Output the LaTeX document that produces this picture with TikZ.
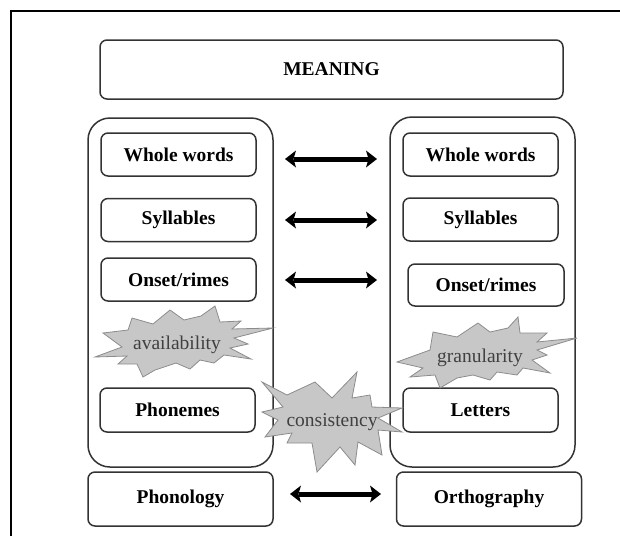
\documentclass[tikz,border=0pt]{standalone}
\usepackage{fontspec}
\setmainfont{Liberation Serif}
\usetikzlibrary{arrows.meta}
\begin{document}
\begin{tikzpicture}[x=1pt,y=-1pt,
  box/.style={draw=black!80, line width=1.5pt, rounded corners=7pt, minimum width=155pt, minimum height=43pt, inner sep=0pt,
    font=\fontsize{19.5}{22}\selectfont\bfseries, text=black},
  group/.style={draw=black!80, line width=1.5pt, rounded corners=22pt, minimum width=185pt, inner sep=0pt},
  burst/.style={fill=black!22, draw=black!45, line width=0.8pt, line join=miter},
  blbl/.style={font=\fontsize{19.5}{22}\selectfont, text=black!75, inner sep=0pt},
  tipx/.tip={Stealth[length=11pt,width=17pt,inset=2.5pt,line width=0pt]},
  dbl/.style={tipx-tipx, line width=5pt},
  framel/.style={line width=2.8pt}]
\useasboundingbox (0,0) rectangle (620,536);
% frame
\draw[framel] (11,536) -- (11,11) -- (620,11);
% meaning
\node[box, minimum width=463pt, minimum height=59pt] (meaning) at (331.5,69.5) {MEANING};
% groups
\node[group, minimum height=349pt] (bigL) at (180.5,292.5) {};
\node[group, minimum height=350pt] (bigR) at (482.5,292) {};
% level boxes
\node[box] (wl) at (178.5,154.5) {Whole words};
\node[box] (wr) at (480.5,154.5) {Whole words};
\node[box] (sl) at (178.5,220) {Syllables};
\node[box] (sr) at (480.5,219.5) {Syllables};
\node[box] (ol) at (178.5,279.5) {Onset/rimes};
\node[box, minimum width=156pt, minimum height=42pt] (orr) at (486,285) {Onset/rimes};
\node[box, minimum height=44pt] (pl) at (177.5,410) {Phonemes};
\node[box, minimum height=44pt] (lr) at (480.5,410) {Letters};
\node[box, minimum width=185pt, minimum height=54pt] (phon) at (180.5,499) {Phonology};
\node[box, minimum width=185pt, minimum height=54pt] (orth) at (489,499) {Orthography};
% arrows
\coordinate (a1l) at (285,159); \coordinate (a1r) at (377,159);
\coordinate (a2l) at (285,220); \coordinate (a2r) at (377,220);
\coordinate (a3l) at (285,280); \coordinate (a3r) at (377,280);
\coordinate (a4l) at (290,494); \coordinate (a4r) at (381,494);
\draw[dbl] (a1l) -- (a1r);
\draw[dbl] (a2l) -- (a2r);
\draw[dbl] (a3l) -- (a3r);
\draw[dbl] (a4l) -- (a4r);
% availability
\draw[burst] (103,333) -- (128,330) -- (132,318) -- (153,324) -- (170,310) -- (184,320) -- (201,316) -- (215,306) -- (220,322) -- (241,321) -- (232,329) -- (273,328) -- (234,338) -- (248,344) -- (230,348) -- (251,359) -- (224,355) -- (214,363) -- (200,360) -- (190,369) -- (176,363) -- (155,370) -- (143,377) -- (137,364) -- (118,364) -- (127,356) -- (95,357) -- (122,347) -- cycle;
\node[blbl] (avail) at (177,345) {availability};
% granularity
\draw[burst] (397,362) -- (430,350) -- (433,332) -- (457,337) -- (478,323) -- (490,332) -- (508,328) -- (518,317) -- (520,333) -- (547,333) -- (537,342) -- (577,338) -- (537,350) -- (547,355) -- (532,360) -- (550,373) -- (523,368) -- (517,375) -- (497,372) -- (490,380) -- (473,375) -- (457,378) -- (440,388) -- (435,375) -- (410,377) -- (423,368) -- cycle;
\node[blbl] (gran) at (480,358) {granularity};
% consistency
\draw[burst] (262,382) -- (287,395) -- (315,382) -- (332,398) -- (357,372) -- (352,398) -- (370,395) -- (372,407) -- (402,408) -- (378,418) -- (402,432) -- (378,430) -- (382,455) -- (358,442) -- (355,465) -- (340,447) -- (317,472) -- (312,443) -- (287,443) -- (292,433) -- (265,437) -- (278,420) -- (262,412) -- (283,407) -- cycle;
\node[blbl] (cons) at (332,422) {consistency};
\end{tikzpicture}
\end{document}
